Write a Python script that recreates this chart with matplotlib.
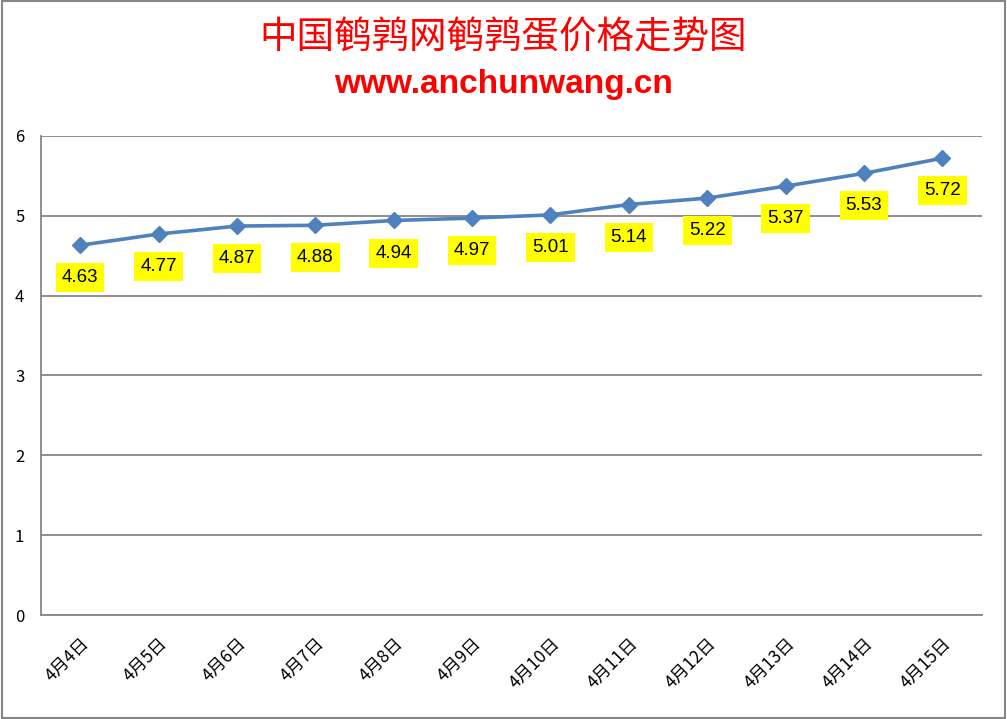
import matplotlib
matplotlib.use('Agg')
import matplotlib.pyplot as plt
from matplotlib.patches import Rectangle

plt.rcParams['font.family'] = ['Noto Sans CJK SC', 'DejaVu Sans']

# data
dates = ['4月4日', '4月5日', '4月6日', '4月7日', '4月8日', '4月9日',
         '4月10日', '4月11日', '4月12日', '4月13日', '4月14日', '4月15日']
prices = [4.63, 4.77, 4.87, 4.88, 4.94, 4.97, 5.01, 5.14, 5.22, 5.37, 5.53, 5.72]
yticks = [0, 1, 2, 3, 4, 5, 6]

fig = plt.figure(figsize=(10.07, 7.19), dpi=100)
ax = fig.add_axes([0.0407, 0.1446, 0.934, 0.6665])

x = list(range(len(dates)))
ax.plot(x, prices, color='#4F81BD', linewidth=2.6, marker='D', markersize=8,
        zorder=3)

for xi, v in zip(x, prices):
    ax.annotate(f'{v:.2f}', (xi, v), xytext=(0, -23.5), textcoords='offset points',
                ha='center', va='center', fontsize=13.5,
                family=['Liberation Sans', 'DejaVu Sans'], color='black',
                bbox=dict(boxstyle='square,pad=0.32', fc='yellow', ec='none'))

ax.set_xlim(-0.5, len(dates) - 0.5)
ax.set_ylim(0, 6)
ax.set_yticks(yticks)
ax.set_yticklabels([str(t) for t in yticks], fontsize=12)
ax.set_xticks(x)
ax.set_xticklabels(dates, rotation=45, ha='right', rotation_mode='anchor', fontsize=12.5)
ax.tick_params(axis='x', length=0, pad=14)
ax.tick_params(axis='y', length=0, pad=12)
ax.grid(axis='y', color='#868686', linewidth=1.3)
ax.set_axisbelow(True)
for s in ['top', 'right']:
    ax.spines[s].set_visible(False)
for s in ['left', 'bottom']:
    ax.spines[s].set_color('#868686')
    ax.spines[s].set_linewidth(1.3)

fig.text(0.5, 0.947, '中国鹌鹑网鹌鹑蛋价格走势图', ha='center', va='center',
         fontsize=27, color='red')
fig.text(0.5, 0.882, 'www.anchunwang.cn', ha='center', va='center',
         fontsize=24, color='red', fontweight='bold',
         family=['Liberation Sans', 'DejaVu Sans'])

fig.patches.append(Rectangle((0.002, 0.002), 0.996, 0.996, transform=fig.transFigure,
                             fill=False, ec='#868686', lw=1.5))

fig.savefig('out.png', dpi=100)
